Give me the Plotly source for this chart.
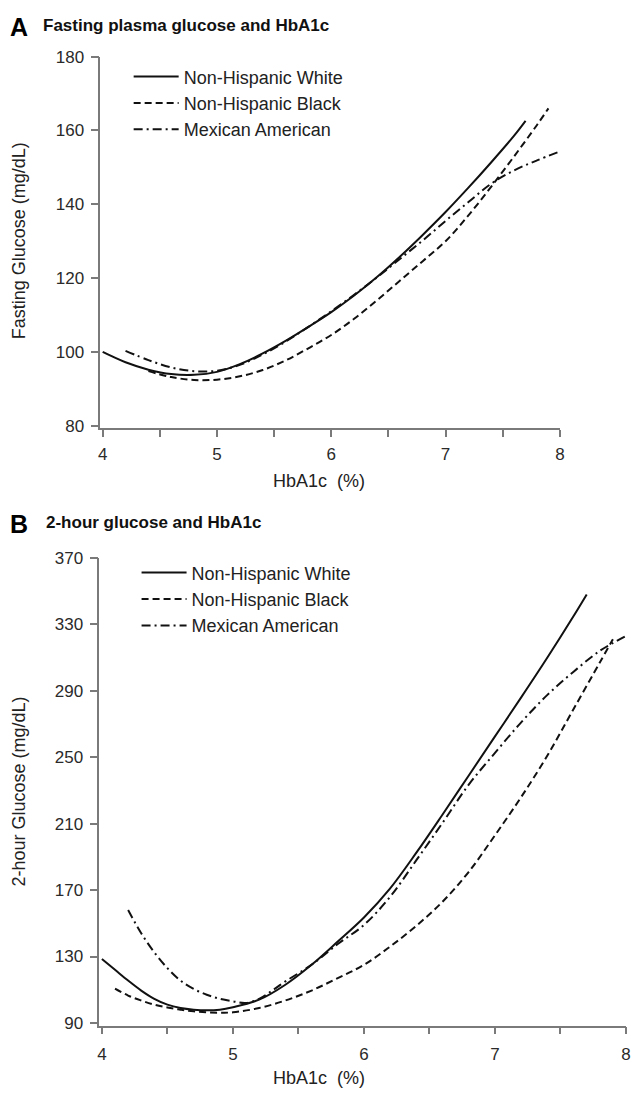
import plotly.graph_objects as go

# ---------------- data ----------------
series_names = ["Non-Hispanic White", "Non-Hispanic Black", "Mexican American"]

# Panel A: fasting plasma glucose (mg/dL) vs HbA1c (%)
a_white_x = [4.0, 4.2, 4.4, 4.6, 4.8, 5.0, 5.2, 5.4, 5.6, 5.8, 6.0, 6.2, 6.4, 6.6, 6.8, 7.0, 7.2, 7.4, 7.6, 7.7]
a_white_y = [100.0, 97.2, 95.2, 94.0, 93.8, 94.6, 96.7, 99.6, 103.0, 106.8, 110.8, 115.3, 120.3, 125.8, 131.7, 137.9, 144.5, 151.4, 158.6, 162.6]

a_black_x = [4.4, 4.6, 4.8, 5.0, 5.2, 5.4, 5.6, 5.8, 6.0, 6.2, 6.4, 6.6, 6.8, 7.0, 7.2, 7.4, 7.6, 7.8, 7.9]
a_black_y = [94.8, 93.2, 92.4, 92.5, 93.4, 95.1, 97.7, 101.0, 104.6, 109.0, 114.0, 119.3, 124.6, 130.0, 137.0, 144.8, 153.0, 161.5, 166.0]

a_mex_x = [4.2, 4.4, 4.6, 4.8, 5.0, 5.2, 5.4, 5.6, 5.8, 6.0, 6.2, 6.4, 6.6, 6.8, 7.0, 7.2, 7.4, 7.6, 7.8, 8.0]
a_mex_y = [100.3, 97.8, 95.8, 94.8, 94.9, 96.5, 99.3, 102.8, 106.8, 111.0, 115.5, 120.2, 125.2, 130.2, 135.5, 140.6, 145.6, 149.2, 151.9, 154.3]

# Panel B: 2-hour glucose (mg/dL) vs HbA1c (%)
b_white_x = [4.0, 4.1, 4.2, 4.3, 4.4, 4.5, 4.6, 4.7, 4.8, 4.9, 5.0, 5.2, 5.4, 5.6, 5.8, 6.0, 6.2, 6.4, 6.6, 6.8, 7.0, 7.2, 7.4, 7.6, 7.7]
b_white_y = [128.5, 122.0, 115.5, 109.5, 104.5, 101.0, 99.0, 98.0, 97.6, 98.0, 99.5, 104.0, 113.0, 125.0, 139.0, 153.5, 171.0, 192.5, 215.5, 239.0, 262.5, 286.0, 310.0, 335.0, 348.0]

b_black_x = [4.1, 4.2, 4.3, 4.4, 4.5, 4.6, 4.7, 4.8, 4.9, 5.0, 5.2, 5.4, 5.6, 5.8, 6.0, 6.2, 6.4, 6.6, 6.8, 7.0, 7.2, 7.4, 7.6, 7.8, 7.9]
b_black_y = [110.7, 106.5, 103.5, 101.0, 99.3, 98.0, 97.0, 96.4, 96.2, 96.4, 99.0, 103.5, 109.5, 117.0, 125.0, 136.0, 148.5, 163.0, 181.0, 203.0, 226.0, 251.0, 279.0, 307.0, 321.0]

b_mex_x = [4.2, 4.3, 4.4, 4.5, 4.6, 4.7, 4.8, 4.9, 5.0, 5.1, 5.2, 5.3, 5.4, 5.6, 5.8, 6.0, 6.2, 6.4, 6.6, 6.8, 7.0, 7.2, 7.4, 7.6, 7.8, 8.0]
b_mex_y = [158.0, 144.0, 132.5, 123.0, 115.5, 110.5, 107.0, 104.5, 103.0, 102.0, 104.5, 109.5, 115.0, 125.0, 137.5, 149.0, 166.0, 188.0, 210.5, 233.5, 252.6, 271.0, 287.5, 301.5, 314.0, 323.0]

x_tickvals = [4, 4.5, 5, 5.5, 6, 6.5, 7, 7.5, 8]
x_ticktext = ["4", "", "5", "", "6", "", "7", "", "8"]
a_yticks = [80, 100, 120, 140, 160, 180]
b_yticks = [90, 130, 170, 210, 250, 290, 330, 370]

# ---------------- styling ----------------
# page is 640x1098; the default 8px body margin is left around the figure
OFF = 8
W, H = 640 - 2 * OFF, 1098 - 2 * OFF
FONT = "Liberation Sans, Arial, sans-serif"
dashes = ["solid", "7px,4px", "9px,4px,2px,4px"]


def px(x):
    return (x - OFF) / W


def py(y):
    return 1 - (y - OFF) / H


fig = go.Figure()

panelA = [(a_white_x, a_white_y), (a_black_x, a_black_y), (a_mex_x, a_mex_y)]
panelB = [(b_white_x, b_white_y), (b_black_x, b_black_y), (b_mex_x, b_mex_y)]

for i, (xs, ys) in enumerate(panelA):
    fig.add_trace(go.Scatter(x=xs, y=ys, mode="lines", name=series_names[i],
                             line=dict(color="#111", width=2, dash=dashes[i], shape="spline"),
                             xaxis="x", yaxis="y", legend="legend"))
for i, (xs, ys) in enumerate(panelB):
    fig.add_trace(go.Scatter(x=xs, y=ys, mode="lines", name=series_names[i],
                             line=dict(color="#111", width=2, dash=dashes[i], shape="spline"),
                             xaxis="x2", yaxis="y2", legend="legend2"))

axis_common = dict(showline=True, linecolor="#7a7a7a", linewidth=1.5, ticks="outside",
                   tickcolor="#7a7a7a", tickwidth=1.5, showgrid=False, zeroline=False,
                   tickfont=dict(family=FONT, size=17, color="#2a2a2a"), fixedrange=True)

legend_common = dict(xanchor="left", yanchor="top", bgcolor="rgba(0,0,0,0)",
                     font=dict(family=FONT, size=18, color="#222"),
                     tracegroupgap=0, itemwidth=45)

fig.update_layout(
    width=W, height=H,
    margin=dict(l=0, r=0, t=0, b=0),
    paper_bgcolor="white", plot_bgcolor="white",
    font=dict(family=FONT, size=18, color="#222"),
    xaxis=dict(domain=[px(99.4), px(564.1)], range=[3.98, 8.0], anchor="y",
               tickvals=x_tickvals, ticktext=x_ticktext, ticklen=7,
               ticklabelstandoff=3, **axis_common),
    yaxis=dict(domain=[py(425.7), py(48.3)], range=[79.36, 180], anchor="x",
               tickvals=a_yticks, ticklen=8, ticklabelstandoff=3, **axis_common),
    xaxis2=dict(domain=[px(98.3), px(631)], range=[3.98, 8.0], anchor="y2",
                tickvals=x_tickvals, ticktext=x_ticktext, ticklen=7,
                ticklabelstandoff=5, **axis_common),
    yaxis2=dict(domain=[py(1032.7), py(557.5)], range=[88.4, 370], anchor="x2",
                tickvals=b_yticks, ticklen=8, ticklabelstandoff=3, **axis_common),
    legend=dict(x=px(128), y=py(50), **legend_common),
    legend2=dict(x=px(136), y=py(554), **legend_common),
    showlegend=True,
)

ann = []
# panel titles
ann.append(dict(text="<b>A</b>", x=px(6), y=py(18), xanchor="left", yanchor="middle",
                font=dict(family=FONT, size=25, color="#000")))
ann.append(dict(text="<b>Fasting plasma glucose and HbA1c</b>", x=px(39), y=py(17),
                xanchor="left", yanchor="middle", font=dict(family=FONT, size=17, color="#111")))
ann.append(dict(text="<b>B</b>", x=px(6), y=py(523), xanchor="left", yanchor="middle",
                font=dict(family=FONT, size=25, color="#000")))
ann.append(dict(text="<b>2-hour glucose and HbA1c</b>", x=px(42), y=py(522),
                xanchor="left", yanchor="middle", font=dict(family=FONT, size=17, color="#111")))
# axis titles
ann.append(dict(text="HbA1c  (%)", x=px(320), y=py(479), xanchor="center", yanchor="middle",
                font=dict(family=FONT, size=18, color="#222")))
ann.append(dict(text="HbA1c  (%)", x=px(320), y=py(1086), xanchor="center", yanchor="middle",
                font=dict(family=FONT, size=18, color="#222")))
ann.append(dict(text="Fasting Glucose (mg/dL)", x=px(18), y=py(235), textangle=-90,
                xanchor="center", yanchor="middle", font=dict(family=FONT, size=18, color="#222")))
ann.append(dict(text="2-hour Glucose (mg/dL)", x=px(17), y=py(795), textangle=-90,
                xanchor="center", yanchor="middle", font=dict(family=FONT, size=18, color="#222")))
for a in ann:
    a.update(xref="paper", yref="paper", showarrow=False)
fig.update_layout(annotations=ann)

fig.write_html("out.html")
